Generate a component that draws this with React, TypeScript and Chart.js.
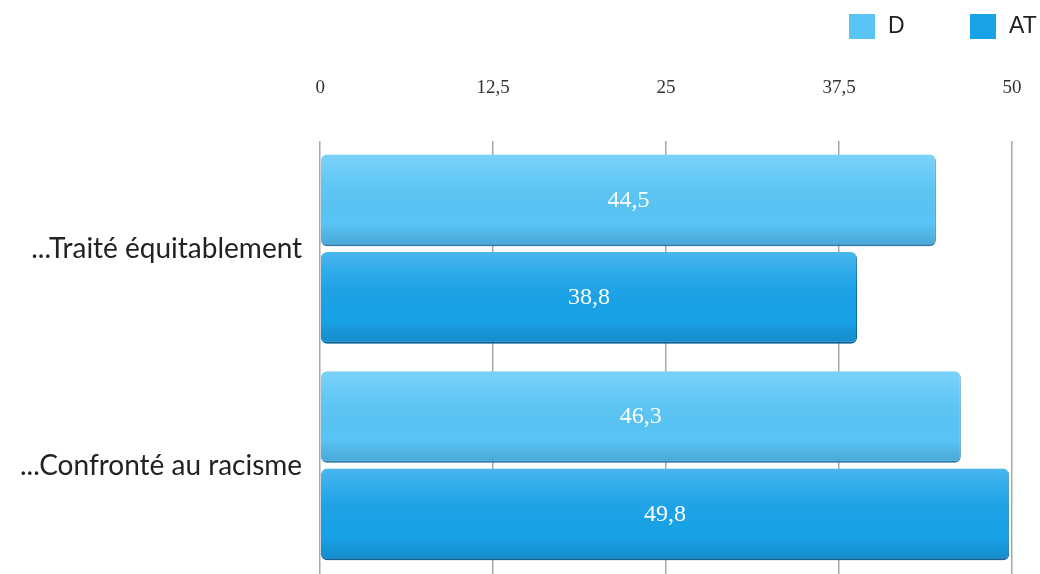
import React, { useEffect, useRef } from "react";
import { Chart, registerables } from "chart.js";

Chart.register(...registerables);

const categories = ["...Traité équitablement", "...Confronté au racisme"];
const seriesNames = ["D", "AT"];
const valuesD = [44.5, 46.3];
const valuesAT = [38.8, 49.8];
const tickValues = [0, 12.5, 25, 37.5, 50];
const colors = ["#58C5F6", "#18A2E8"];

const fmt = (v: number) => String(v).replace(".", ",");

const barShading = {
  id: "barShading",
  afterDatasetsDraw(chart: any) {
    const ctx = chart.ctx;
    ctx.save();
    chart.data.datasets.forEach((_ds: any, i: number) => {
      const meta = chart.getDatasetMeta(i);
      meta.data.forEach((bar: any) => {
        const top = bar.y - bar.height / 2;
        const h = bar.height;
        const left = Math.min(bar.base, bar.x);
        const w = Math.abs(bar.x - bar.base);
        const g = ctx.createLinearGradient(0, top, 0, top + h);
        g.addColorStop(0, "rgba(255,255,255,0.22)");
        g.addColorStop(0.3, "rgba(255,255,255,0.06)");
        g.addColorStop(0.75, "rgba(0,0,0,0)");
        g.addColorStop(1, "rgba(0,40,80,0.18)");
        ctx.fillStyle = g;
        ctx.beginPath();
        if ((ctx as any).roundRect) (ctx as any).roundRect(left, top, w, h, 6);
        else ctx.rect(left, top, w, h);
        ctx.fill();
      });
    });
    ctx.restore();
  },
};

const valueLabels = {
  id: "valueLabels",
  afterDatasetsDraw(chart: any) {
    const ctx = chart.ctx;
    ctx.save();
    ctx.fillStyle = "#ffffff";
    ctx.font = "24px 'Liberation Serif', serif";
    ctx.textAlign = "center";
    ctx.textBaseline = "middle";
    chart.data.datasets.forEach((ds: any, i: number) => {
      const meta = chart.getDatasetMeta(i);
      meta.data.forEach((bar: any, j: number) => {
        const cx = (bar.base + bar.x) / 2;
        ctx.fillText(fmt(ds.data[j]), cx, bar.y);
      });
    });
    ctx.restore();
  },
};

const customLegend = {
  id: "customLegend",
  afterDraw(chart: any) {
    const ctx = chart.ctx;
    const w = chart.width;
    ctx.save();
    ctx.font = "23px 'Liberation Sans', Arial, sans-serif";
    ctx.textBaseline = "middle";
    const items = [
      { x: w - 191, label: seriesNames[0], color: colors[0] },
      { x: w - 70, label: seriesNames[1], color: colors[1] },
    ];
    items.forEach((it) => {
      ctx.fillStyle = it.color;
      ctx.fillRect(it.x, 14, 26, 25);
      ctx.fillStyle = "#222222";
      ctx.textAlign = "left";
      ctx.fillText(it.label, it.x + 39, 27);
    });
    ctx.restore();
  },
};

export default function App() {
  const ref = useRef<HTMLCanvasElement | null>(null);
  useEffect(() => {
    document.body.style.margin = "0";
    const canvas = ref.current;
    if (!canvas) return;
    const chart = new Chart(canvas, {
      type: "bar",
      data: {
        labels: categories,
        datasets: [
          {
            label: seriesNames[0],
            data: valuesD,
            backgroundColor: colors[0],
            borderColor: "#3a8fc0",
            borderWidth: { bottom: 2, right: 1 } as any,
            borderRadius: 6,
            borderSkipped: false,
            categoryPercentage: 0.9,
            barPercentage: 0.94,
          },
          {
            label: seriesNames[1],
            data: valuesAT,
            backgroundColor: colors[1],
            borderColor: "#0f6fa5",
            borderWidth: { bottom: 2, right: 1 } as any,
            borderRadius: 6,
            borderSkipped: false,
            categoryPercentage: 0.9,
            barPercentage: 0.94,
          },
        ],
      },
      options: {
        indexAxis: "y",
        animation: false,
        responsive: true,
        maintainAspectRatio: false,
        layout: { autoPadding: false, padding: { left: 10, right: 28, top: 36, bottom: 0 } },
        plugins: {
          legend: { display: false },
          tooltip: { enabled: false },
        },
        scales: {
          x: {
            position: "top",
            min: 0,
            max: 50,
            afterBuildTicks: (axis: any) => {
              axis.ticks = tickValues.map((v) => ({ value: v }));
            },
            afterFit: (s: any) => {
              s.paddingLeft = 0;
              s.paddingRight = 0;
            },
            ticks: {
              callback: (v: any) => fmt(Number(v)),
              font: { family: "'Liberation Serif', serif", size: 19 },
              color: "#333333",
              padding: 41,
            },
            grid: {
              color: "#a8a8a8",
              lineWidth: 1.5,
              drawTicks: false,
            },
            border: { display: false },
          },
          y: {
            afterFit: (s: any) => {
              s.paddingTop = 0;
              s.paddingBottom = 0;
            },
            ticks: {
              font: { family: "Lato, 'Open Sans', sans-serif", size: 28 },
              color: "#222222",
              padding: 10,
            },
            grid: { display: false },
            border: { display: false },
          },
        },
      },
      plugins: [barShading, valueLabels, customLegend],
    });
    return () => chart.destroy();
  }, []);
  return (
    <div style={{ width: 1040, height: 574, position: "relative", background: "#fff" }}>
      <canvas ref={ref} />
    </div>
  );
}
